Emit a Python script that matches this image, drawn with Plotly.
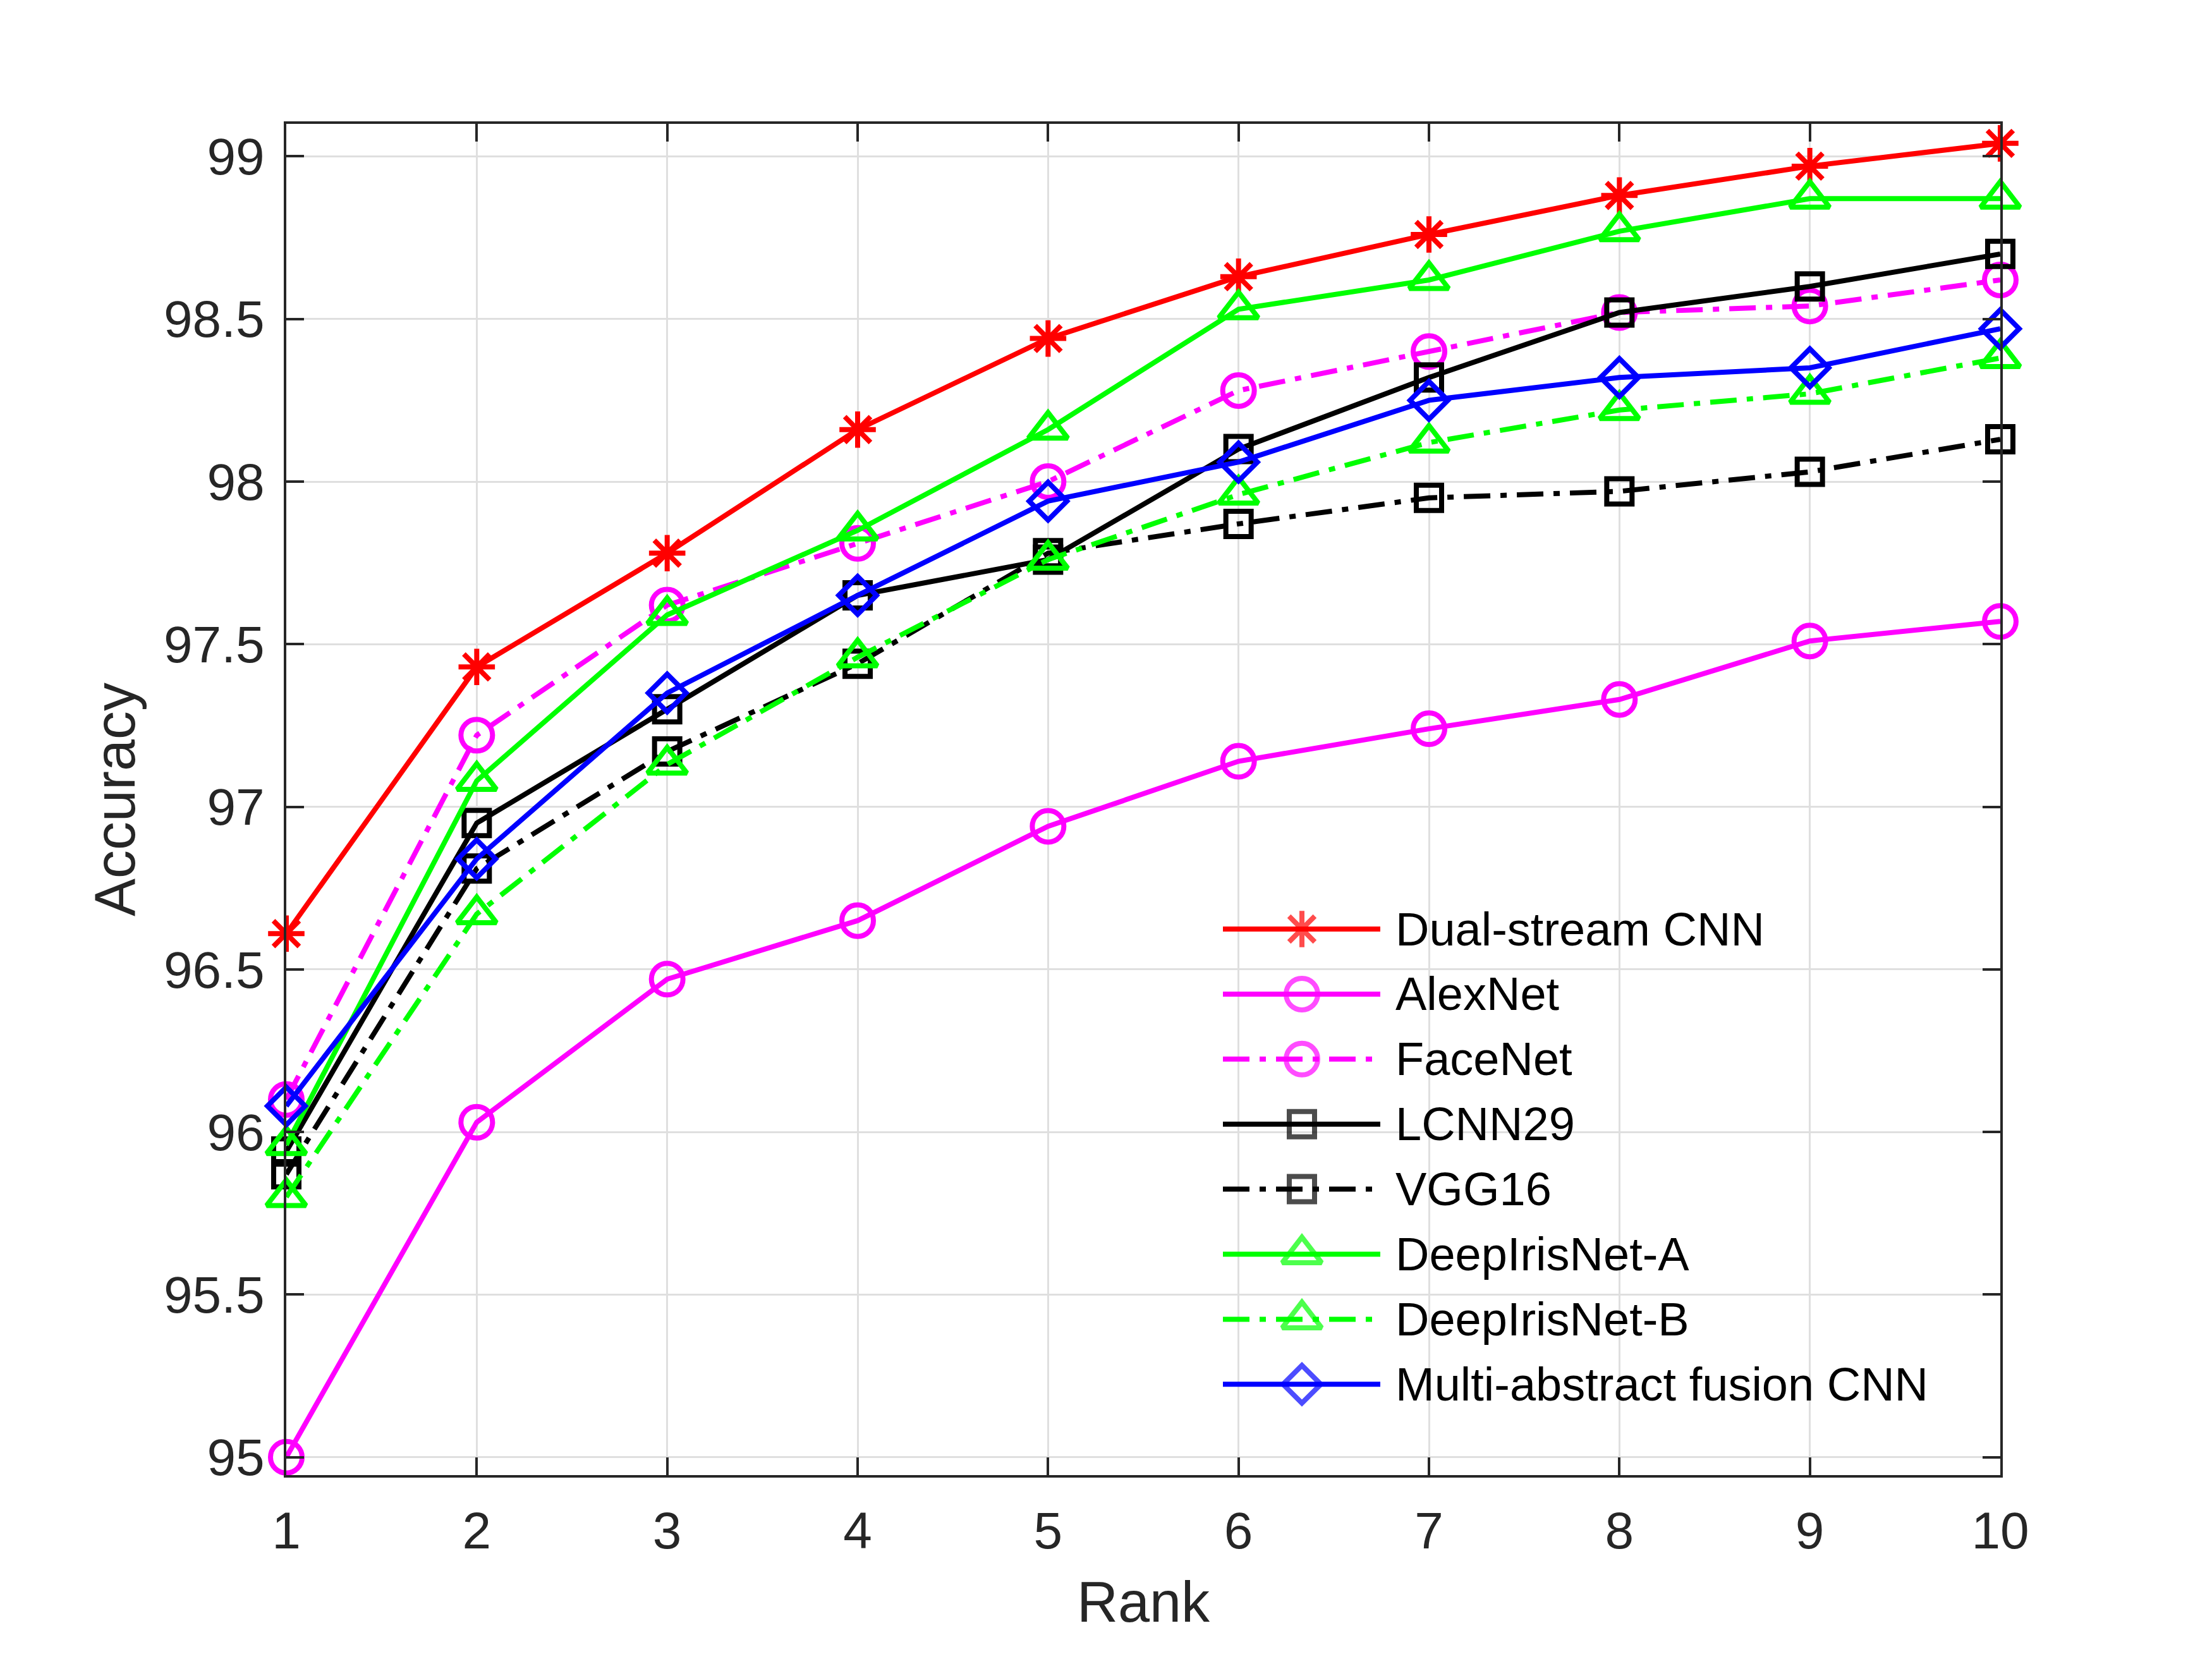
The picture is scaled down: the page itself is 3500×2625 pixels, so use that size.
import plotly.graph_objects as go

# ---------------- data ----------------
ranks = [1, 2, 3, 4, 5, 6, 7, 8, 9, 10]
names = ["Dual-stream CNN", "AlexNet", "FaceNet", "LCNN29", "VGG16",
         "DeepIrisNet-A", "DeepIrisNet-B", "Multi-abstract fusion CNN"]
dual_stream = [96.61, 97.43, 97.78, 98.16, 98.44, 98.63, 98.76, 98.88, 98.97, 99.04]
alexnet = [95.00, 96.03, 96.47, 96.65, 96.94, 97.14, 97.24, 97.33, 97.51, 97.57]
facenet = [96.10, 97.22, 97.62, 97.81, 98.00, 98.28, 98.40, 98.52, 98.54, 98.62]
lcnn29 = [95.94, 96.95, 97.30, 97.65, 97.76, 98.10, 98.32, 98.52, 98.60, 98.70]
vgg16 = [95.87, 96.81, 97.17, 97.44, 97.78, 97.87, 97.95, 97.97, 98.03, 98.13]
deepiris_a = [95.96, 97.08, 97.59, 97.85, 98.16, 98.53, 98.62, 98.77, 98.87, 98.87]
deepiris_b = [95.80, 96.67, 97.13, 97.46, 97.76, 97.96, 98.12, 98.22, 98.27, 98.38]
multi_abstract = [96.08, 96.84, 97.35, 97.65, 97.94, 98.06, 98.25, 98.32, 98.35, 98.47]
y_ticks = [95, 95.5, 96, 96.5, 97, 97.5, 98, 98.5, 99]
y_ticklabels = ["95", "95.5", "96", "96.5", "97", "97.5", "98", "98.5", "99"]

all_values = [dual_stream, alexnet, facenet, lcnn29, vgg16,
              deepiris_a, deepiris_b, multi_abstract]

# ---------------- styles ----------------
DASHDOT = "42px,16px,10px,16px"
styles = [
    dict(color="#FF0000", dash="solid", symbol="asterisk-open", size=48),
    dict(color="#FF00FF", dash="solid", symbol="circle-open", size=50),
    dict(color="#FF00FF", dash=DASHDOT, symbol="circle-open", size=50),
    dict(color="#000000", dash="solid", symbol="square-open", size=40),
    dict(color="#000000", dash=DASHDOT, symbol="square-open", size=40),
    dict(color="#00FF00", dash="solid", symbol="triangle-up-open", size=54),
    dict(color="#00FF00", dash=DASHDOT, symbol="triangle-up-open", size=54),
    dict(color="#0000FF", dash="solid", symbol="diamond-open", size=46),
]
LW = 8
MLW = 8

fig = go.Figure()
for name, vals, st in zip(names, all_values, styles):
    fig.add_trace(go.Scatter(
        x=ranks, y=vals, name=name, mode="lines+markers",
        line=dict(color=st["color"], width=LW, dash=st["dash"]),
        marker=dict(symbol=st["symbol"], size=st["size"], color=st["color"],
                    line=dict(color=st["color"], width=MLW)),
        cliponaxis=False, showlegend=False,
    ))

# ---------------- manual legend on an overlay pixel axis ----------------
PL, PR, PT, PB = 453, 3165, 196, 2334
leg_y0, leg_dy = 1470, 102.9
leg_x0, leg_xm, leg_x1, leg_tx = 1935, 2060, 2184, 2206
for i, (name, st) in enumerate(zip(names, styles)):
    yy = leg_y0 + i * leg_dy
    fig.add_trace(go.Scatter(
        x=[leg_x0, leg_xm, leg_x1], y=[yy, yy, yy], xaxis="x2", yaxis="y2",
        mode="lines+markers",
        line=dict(color=st["color"], width=LW, dash=st["dash"]),
        marker=dict(symbol=st["symbol"], size=[0, st["size"], 0], color=st["color"],
                    line=dict(color=st["color"], width=[0, MLW, 0])),
        showlegend=False, hoverinfo="skip", cliponaxis=False,
    ))
    fig.add_annotation(x=leg_tx, y=yy, xref="x2", yref="y2", text=name,
                       showarrow=False, xanchor="left", yanchor="middle",
                       font=dict(family="Liberation Sans, Arial", size=74, color="#000000"))

axis_common = dict(
    showline=True, linecolor="#262626", linewidth=4, mirror="ticks",
    ticks="inside", ticklen=28, tickwidth=4, tickcolor="#262626",
    showgrid=True, gridcolor="#DFDFDF", gridwidth=3, zeroline=False,
    tickfont=dict(family="Liberation Sans, Arial", size=82, color="#262626"),
)

fig.update_layout(
    width=3500, height=2625,
    margin=dict(l=PL, r=3500 - PR, t=PT, b=2625 - PB),
    paper_bgcolor="white", plot_bgcolor="white",
    xaxis=dict(range=[1, 10], tickvals=ranks, ticktext=[str(r) for r in ranks],
               title=dict(text="Rank", standoff=38,
                          font=dict(family="Liberation Sans, Arial", size=90, color="#262626")),
               ticklabelstandoff=14, **axis_common),
    yaxis=dict(range=[94.945, 99.1], tickvals=y_ticks, ticktext=y_ticklabels,
               title=dict(text="Accuracy", standoff=16,
                          font=dict(family="Liberation Sans, Arial", size=90, color="#262626")),
               ticklabelstandoff=14, **axis_common),
    xaxis2=dict(range=[PL, PR], overlaying="x", visible=False, fixedrange=True),
    yaxis2=dict(range=[PB, PT], overlaying="y", visible=False, fixedrange=True),
)

fig.write_html("out.html")
